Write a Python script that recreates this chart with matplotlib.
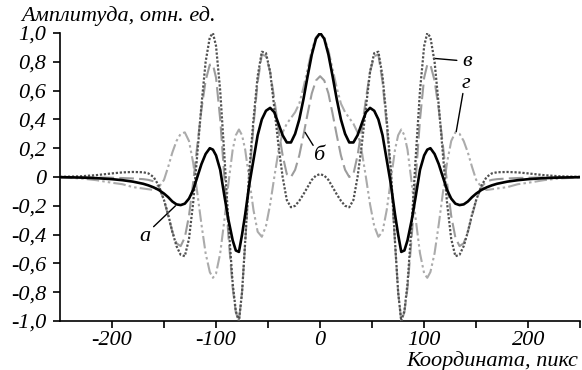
#!/usr/bin/env python3
"""
Профили амплитуды (кривые а, б, в, г) — воспроизведение рисунка.
Сохраняет out.png
"""

import numpy as np
import matplotlib
matplotlib.use( "Agg" )
import matplotlib.pyplot as plt

# ── Данные (правая половина, кривые симметричны относительно 0) ────────────
x_half = [ 0, 4, 8, 12, 16, 20, 24, 28, 32, 36, 40, 44, 48, 52, 56, 60,
           64, 68, 72, 75, 78, 81, 84, 88, 92, 96, 100, 103, 106, 110, 114, 118,
           122, 126, 130, 134, 138, 142, 146, 150, 155, 160, 165, 170, 180, 190,
           200, 215, 230, 250 ]

curve_a = [ 1.00, 0.96, 0.85, 0.70, 0.54, 0.40, 0.30, 0.24, 0.24, 0.29, 0.37, 0.45,
            0.48, 0.46, 0.40, 0.29, 0.12, -0.05, -0.26, -0.40, -0.52, -0.51, -0.44,
            -0.30, -0.13, 0.05, 0.15, 0.19, 0.20, 0.16, 0.09, 0.00, -0.09, -0.15,
            -0.185, -0.195, -0.19, -0.17, -0.14, -0.115, -0.09, -0.072, -0.058,
            -0.047, -0.032, -0.022, -0.015, -0.008, -0.004, -0.001 ]

curve_b = [ 0.70, 0.67, 0.58, 0.44, 0.29, 0.15, 0.05, 0.00, 0.02, 0.15, 0.33, 0.54,
            0.73, 0.84, 0.85, 0.66, 0.36, 0.00, -0.46, -0.80, -1.00, -0.94, -0.77,
            -0.42, 0.00, 0.40, 0.69, 0.78, 0.78, 0.67, 0.47, 0.22, -0.04, -0.27,
            -0.42, -0.48, -0.46, -0.38, -0.27, -0.16, -0.07, -0.03, -0.02, -0.015,
            -0.01, -0.007, -0.005, -0.003, -0.002, -0.001 ]

curve_v = [ 0.02, 0.01, -0.02, -0.07, -0.12, -0.165, -0.20, -0.21, -0.16, 0.00, 0.22,
            0.48, 0.73, 0.86, 0.87, 0.70, 0.40, 0.05, -0.45, -0.80, -1.00, -0.93,
            -0.74, -0.33, 0.15, 0.60, 0.91, 1.00, 0.97, 0.80, 0.50, 0.16, -0.18,
            -0.43, -0.55, -0.54, -0.48, -0.38, -0.26, -0.16, -0.06, 0.00, 0.025,
            0.033, 0.035, 0.032, 0.025, 0.013, 0.005, 0.001 ]

curve_g = [ 1.00, 0.97, 0.88, 0.75, 0.62, 0.51, 0.45, 0.41, 0.37, 0.31, 0.18, 0.00,
            -0.19, -0.34, -0.415, -0.38, -0.23, -0.02, 0.19, 0.29, 0.33, 0.29, 0.19,
            -0.04, -0.30, -0.53, -0.67, -0.70, -0.66, -0.53, -0.33, -0.11, 0.10,
            0.25, 0.31, 0.30, 0.25, 0.17, 0.07, -0.02, -0.07, -0.09, -0.085, -0.08,
            -0.07, -0.05, -0.04, -0.022, -0.01, -0.003 ]

y_ticks = [ 1.0, 0.8, 0.6, 0.4, 0.2, 0.0, -0.2, -0.4, -0.6, -0.8, -1.0 ]
y_tick_labels = [ "1,0", "0,8", "0,6", "0,4", "0,2", "0", "-0,2", "-0,4", "-0,6", "-0,8", "-1,0" ]
x_ticks = [ -200, -100, 0, 100, 200 ]
x_tick_labels = [ "-200", "-100", "0", "100", "200" ]
x_minor = [ -150, -50, 50, 150, 250 ]

# ── Стиль ──────────────────────────────────────────────────────────────────
FONT = [ "Liberation Serif", "DejaVu Serif" ]
FS = 16
C_A = "#000000"
C_B = "#9c9c9c"
C_V = "#505050"
C_G = "#ababab"


def mirror( x, y ):
    """Достраивает левую половину по симметрии."""
    x = np.asarray( x, dtype = float )
    y = np.asarray( y, dtype = float )
    xf = np.concatenate( [ -x[ ::-1 ], x[ 1: ] ] )
    yf = np.concatenate( [ y[ ::-1 ], y[ 1: ] ] )
    return xf, yf


def main():
    plt.rcParams[ "font.family" ] = FONT
    plt.rcParams[ "font.style" ] = "italic"

    fig = plt.figure( figsize = (5.82, 3.70), dpi = 100 )
    ax = fig.add_axes( [ 0.103, 0.1324, 0.894, 0.7784 ] )

    xa, ya = mirror( x_half, curve_a )
    xb, yb = mirror( x_half, curve_b )
    xv, yv = mirror( x_half, curve_v )
    xg, yg = mirror( x_half, curve_g )

    ax.plot( xg, yg, color = C_G, lw = 1.5, dashes = (6, 1.5, 1.2, 1.5, 1.2, 1.5), zorder = 2 )
    ax.plot( xb, yb, color = C_B, lw = 1.5, dashes = (7, 2.5), zorder = 3 )
    ax.plot( xv, yv, color = C_V, lw = 1.6, dashes = (1.0, 0.8), zorder = 4 )
    ax.plot( xa, ya, color = C_A, lw = 1.9, zorder = 5 )

    ax.set_xlim( -250, 250 )
    ax.set_ylim( -1.0, 1.0 )

    ax.set_yticks( y_ticks )
    ax.set_yticklabels( y_tick_labels )
    ax.set_xticks( x_ticks )
    ax.set_xticklabels( x_tick_labels )
    ax.set_xticks( x_minor, minor = True )

    for lab in ax.get_xticklabels() + ax.get_yticklabels():
        lab.set_fontsize( FS )
        lab.set_fontstyle( "italic" )

    ax.tick_params( axis = "both", which = "both", direction = "out", length = 5,
                    width = 1.2, color = "black" )
    ax.tick_params( axis = "y", pad = 5 )
    ax.tick_params( axis = "x", pad = 2 )

    for side in ( "top", "right" ):
        ax.spines[ side ].set_visible( False )
    for side in ( "left", "bottom" ):
        ax.spines[ side ].set_linewidth( 1.2 )

    # Подписи осей
    fig.text( 21 / 582, 1 - 21 / 370, "Амплитуда, отн. ед.", fontsize = FS,
              style = "italic", ha = "left", va = "baseline" )
    fig.text( 578 / 582, 1 - 366 / 370, "Координата, пикс", fontsize = FS,
              style = "italic", ha = "right", va = "baseline" )

    # Обозначения кривых
    line_kw = dict( arrowstyle = "-", color = "black", lw = 1.0, shrinkA = 0, shrinkB = 0 )
    ax.text( -168, -0.41, "а", fontsize = FS, ha = "center", va = "center" )
    ax.annotate( "", xy = (-139, -0.20), xytext = (-160, -0.345), arrowprops = line_kw )
    ax.text( -1, 0.15, "б", fontsize = FS, ha = "center", va = "center" )
    ax.annotate( "", xy = (-14.4, 0.31), xytext = (-6.7, 0.22), arrowprops = line_kw )
    ax.text( 141, 0.80, "в", fontsize = FS, ha = "center", va = "center" )
    ax.annotate( "", xy = (109, 0.824), xytext = (131.4, 0.81), arrowprops = line_kw )
    ax.text( 140, 0.65, "г", fontsize = FS, ha = "center", va = "center" )
    ax.annotate( "", xy = (130.8, 0.315), xytext = (137.2, 0.58), arrowprops = line_kw )

    fig.savefig( "out.png", dpi = 100, facecolor = "white" )
    plt.close( fig )


if __name__ == "__main__":
    main()
